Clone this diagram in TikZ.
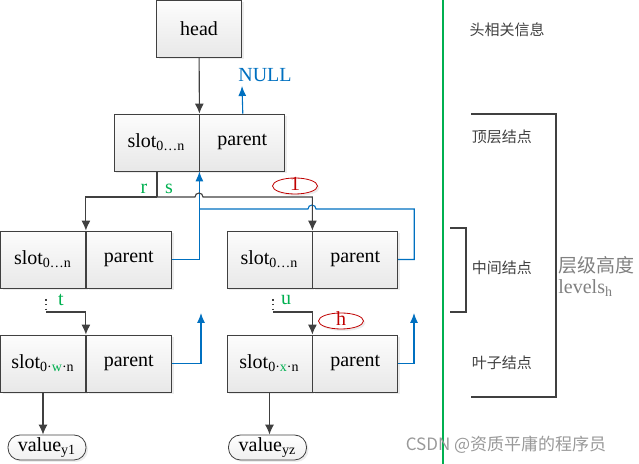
\documentclass[tikz,border=0pt]{standalone}
\usepackage{fontspec}
\setmainfont{Liberation Serif}
\newfontfamily\cjk{Noto Sans CJK SC}
\usetikzlibrary{arrows.meta, shapes.geometric, shadows, positioning}
\definecolor{lineGray}{HTML}{404040}
\definecolor{ptrBlue}{HTML}{0070C0}
\definecolor{lblGreen}{HTML}{00B050}
\definecolor{ovalRed}{HTML}{C00000}
\tikzset{
    cell/.style={rectangle, draw=lineGray, top color=black!1, bottom color=black!9, minimum width=42.5pt, minimum height=28.5pt, inner sep=0pt, drop shadow={shadow xshift=1.2pt, shadow yshift=-1.2pt, opacity=0.15}},
    valNode/.style={rectangle, rounded corners=6pt, draw=lineGray, top color=white, bottom color=black!6, minimum width=39pt, minimum height=12.5pt, inner sep=0pt, drop shadow={shadow xshift=1pt, shadow yshift=-1pt, opacity=0.15}},
    flagOval/.style={ellipse, draw=ovalRed, fill=white, text=ovalRed, minimum width=22.5pt, minimum height=8pt, inner sep=0pt, text height=5pt, text depth=0pt, drop shadow={shadow xshift=1pt, shadow yshift=-1pt, opacity=0.15}},
    slotEdge/.style={-{Latex[length=5pt, width=4.5pt]}, draw=lineGray, line width=0.55pt},
    ptrEdge/.style={-{Latex[length=5pt, width=4pt]}, draw=ptrBlue, line width=0.55pt},
    ptrLine/.style={draw=ptrBlue, line width=0.55pt},
    idxLabel/.style={text=lblGreen, inner sep=0pt},
    sideText/.style={font=\cjk\fontsize{7.5}{9}\selectfont, text=lineGray},
}
\newcommand{\slotTxt}[1]{slot\textsubscript{#1}}

\begin{document}
\begin{tikzpicture}[x=0.5pt, y=-0.5pt]
    \useasboundingbox (0,0) rectangle (639,464);

    % head
    \node[cell, minimum width=42.5pt] (head) at (199,28.5) {head};

    % top level
    \node[cell] (tslot) at (156.5,142.5) {\slotTxt{0\dots n}};
    \node[cell, right=0pt of tslot] (tpar) {parent};
    \coordinate (nullEnd) at (242,86);
    \node[text=ptrBlue] (null) at (265,75) {NULL};

    \draw[slotEdge] (head) -- (tslot.north east);
    \draw[ptrEdge] (tpar.north) ++(0.5,0) -- (nullEnd);

    % middle level
    \node[cell] (lslot) at (43,259.5) {\slotTxt{0\dots n}};
    \node[cell, right=0pt of lslot] (lpar) {parent};
    \node[cell] (rslot) at (269.5,259.5) {\slotTxt{0\dots n}};
    \node[cell, right=0pt of rslot] (rpar) {parent};

    \coordinate (split) at (157,197);
    \coordinate (bjoin) at (199,209);
    \draw[ptrEdge] (lpar.east) -| (tslot.south east);
    \draw[ptrLine] (rpar.east) -- ++(16,0) |- (316,209) arc (0:-180:4) -- (bjoin);
    \draw[draw=lineGray, line width=0.55pt] (tslot.south west -| split) -- (split);
    \draw[slotEdge] (split) -| (lslot.north east);
    \draw[slotEdge] (split) -- (195,197) arc (180:360:4) -| (rslot.north east);
    \node[idxLabel] (r) at (144,189) {r};
    \node[idxLabel] (s) at (169,189) {s};
    \node[flagOval] (m1) at (295,186) {1};

    % leaf level
    \node[cell] (lwslot) at (43,363.5) {slot\textsubscript{0·\textcolor{lblGreen}{w}·n}};
    \node[cell, right=0pt of lwslot] (lwpar) {parent};
    \node[cell] (rxslot) at (269.5,363.5) {slot\textsubscript{0·\textcolor{lblGreen}{x}·n}};
    \node[cell, right=0pt of rxslot] (rxpar) {parent};

    \coordinate (ldots) at (46,312);
    \coordinate (rdots) at (273,312);
    \draw[lineGray, line width=0.8pt, dash pattern=on 0.8pt off 1.6pt] (46,299) -- (ldots);
    \draw[lineGray, line width=0.8pt, dash pattern=on 0.8pt off 1.6pt] (273,299) -- (rdots);
    \draw[slotEdge] (ldots) -| (lwslot.north east);
    \draw[slotEdge] (rdots) -| (rxslot.north east);
    \node[idxLabel] (t) at (61,300) {t};
    \node[idxLabel] (u) at (286,300) {u};
    \node[flagOval] (mh) at (341,321) {h};

    \coordinate (lup) at (201,313);
    \coordinate (rup) at (414,313);
    \draw[ptrEdge] (lwpar.east) -| (lup);
    \draw[ptrEdge] (rxpar.east) -| (rup);

    % values
    \node[valNode] (val1) at (47,447.5) {value\textsubscript{y1}};
    \node[valNode] (val2) at (267.5,447.5) {value\textsubscript{yz}};
    \draw[slotEdge] (lwslot.south) -- (lwslot.south |- val1.north);
    \draw[slotEdge] (rxslot.south) -- (rxslot.south |- val2.north);

    % right side notes
    \draw[lblGreen, line width=0.6pt] (443,0) -- (443,464);
    \node[sideText] (hinfo) at (507,30) {头相关信息};
    \node[sideText] (topn) at (502,137) {顶层结点};
    \node[sideText] (midn) at (502,268) {中间结点};
    \node[sideText] (leafn) at (502,363) {叶子结点};
    \draw[lineGray, line width=0.55pt] (471,114) -| (556,397) -- (471,397);
    \draw[lineGray, line width=0.55pt] (450,228) -| (466,312) -- (450,312);
    \node[anchor=west, text=black!50, font=\cjk\fontsize{9.5}{11}\selectfont, inner sep=0pt] (lvl) at (558,265) {层级高度};
    \node[anchor=west, text=black!50, inner sep=0pt] (lvls) at (558,288) {levels\textsubscript{h}};

    \node[text=black!40, font=\cjk\fontsize{8.5}{10}\selectfont, inner sep=0pt] (wm) at (506,445) {CSDN @资质平庸的程序员};
\end{tikzpicture}
\end{document}
